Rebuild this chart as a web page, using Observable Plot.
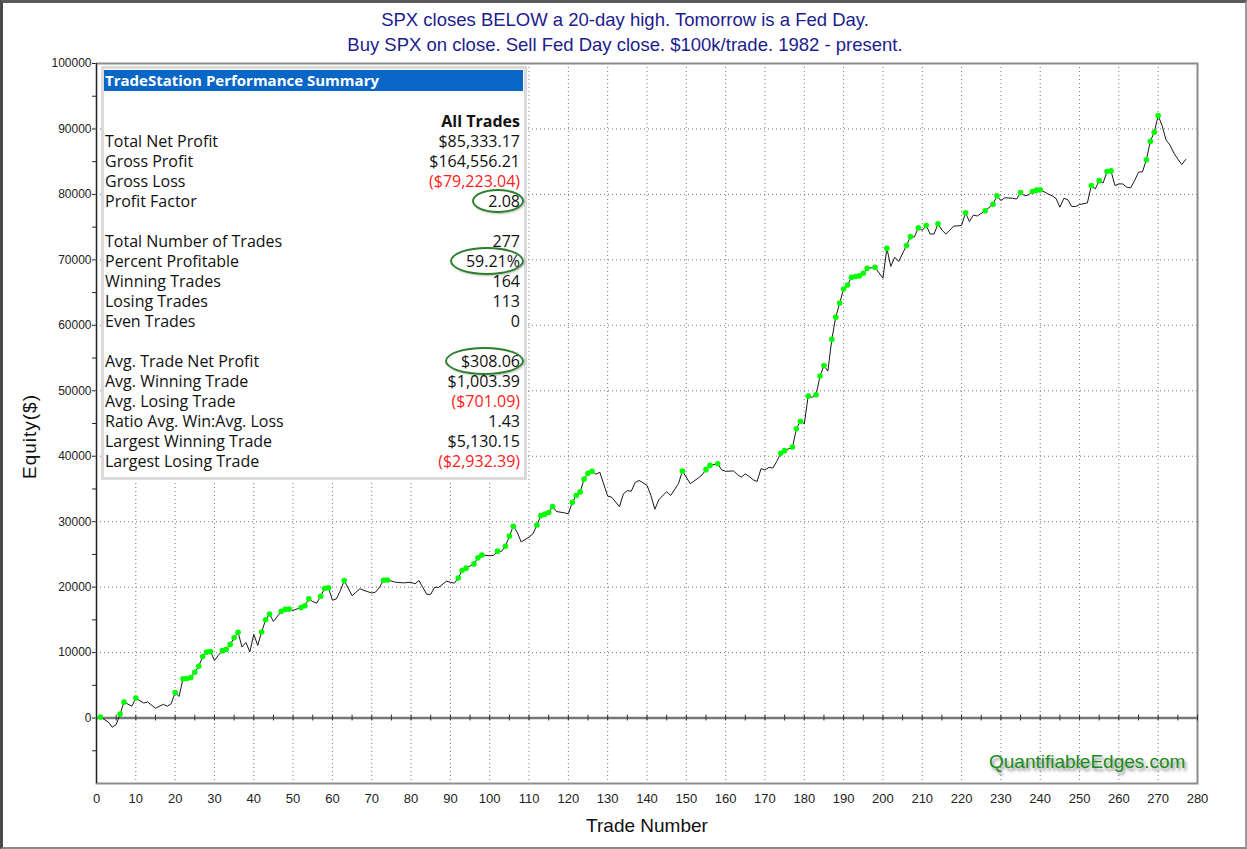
<!DOCTYPE html>
<html>
<head>
<meta charset="utf-8">
<script src="https://cdn.jsdelivr.net/npm/d3@7"></script>
<script src="https://cdn.jsdelivr.net/npm/@observablehq/plot@0.6"></script>
<style>
  body { margin: 0; background: #fff; }
  #wrap { position: relative; width: 1247px; height: 849px; overflow: hidden; background: #fff; font-family: "Liberation Sans", Arial, sans-serif; }
  #border { position: absolute; left: 0; top: 0; width: 1247px; height: 849px; box-sizing: border-box;
    border-left: 3px solid #4a4a4a; border-top: 3px solid #5a5a5a; border-right: 2px solid #9a9a9a; border-bottom: 2px solid #8a8a8a; pointer-events: none; }
  #title { position: absolute; left: 0; top: 6.5px; width: 1250px; text-align: center; color: #1c1c8e; font-size: 18.5px; line-height: 25px; }
  #chart { position: absolute; left: 0; top: 55px; }
  #summary { position: absolute; left: 101px; top: 66px; width: 426px; height: 414px; box-sizing: border-box; border: 3px solid #dadada; background: #fff;
    font-family: "Open Sans", "Noto Sans", sans-serif; font-size: 16px; color: #111; }
  #summary .hdr { position: absolute; left: 0; top: 1px; width: 418px; height: 21px; background: #0866c6; color: #fff; font-weight: bold; font-size: 15px; line-height: 21px; padding-left: 1px; }
  #summary .row { position: absolute; left: 0; width: 416px; height: 20px; line-height: 20px; }
  #summary .lab { position: absolute; left: 0; }
  #summary .val { position: absolute; right: 0; }
  #summary .ell { position: absolute; border: 2px solid #2d7f2d; border-radius: 50%; box-sizing: border-box; box-shadow: 1px 1px 2px rgba(0,0,0,0.25); }
  #wm { position: absolute; left: 989px; top: 751px; font-size: 19px; color: #1a8c1a; text-shadow: 2px 3px 3px rgba(0,0,0,0.45); font-family: "Liberation Sans", Arial, sans-serif; }
</style>
</head>
<body>
<div id="wrap">
  <div id="title"></div>
  <div id="chart"></div>
  <div id="summary"></div>
  <div id="wm"></div>
  <div id="border"></div>
</div>
<script>
// ---- Chart text ----
const titleLines = [
  "SPX closes BELOW a 20-day high. Tomorrow is a Fed Day.",
  "Buy SPX on close. Sell Fed Day close. $100k/trade. 1982 - present."
];
const xAxisLabel = "Trade Number";
const yAxisLabel = "Equity($)";
const watermark = "QuantifiableEdges.com";

// ---- Equity curve ----
const tradeNo = [1,3,4,5,6,7,9,10,12,13,15,17,18,19,20,21,22,23,24,25,26,27,28,29,30,31,32,33,34,35,36,37,38,39,40,41,42,43,44,45,47,48,49,50,52,53,54,55,56,57,58,59,60,61,62,63,65,67,68,70,71,72,73,74,76,78,80,81,82,84,85,86,87,89,90,91,92,93,94,96,97,98,100,101,102,103,104,105,106,107,108,110,111,112,113,114,115,116,117,119,120,121,122,123,124,125,126,127,128,130,131,133,134,135,136,137,138,140,141,142,143,145,146,148,149,151,153,154,155,156,158,159,160,162,163,164,165,166,167,168,169,170,171,172,173,174,175,177,178,179,180,181,182,183,184,185,186,187,188,189,190,191,192,193,194,195,196,198,200,201,202,203,204,206,207,208,209,210,211,212,213,214,215,216,218,220,221,222,223,224,226,228,229,230,231,233,234,235,236,237,238,239,240,241,242,243,244,245,246,247,248,249,250,252,253,254,255,256,257,258,259,260,261,262,263,264,265,266,267,268,269,270,271,272,273,274,275,276,277];
const equity = [150,-600,-1400,-1000,600,2450,1800,3050,2300,2450,1500,2100,1800,2200,3900,3300,6000,6050,6200,7000,7900,9400,10100,10150,8800,9600,10300,10500,11250,12250,13100,10850,11550,10100,12800,11100,13150,15000,15900,14750,16300,16600,16650,16450,16900,17150,18200,17800,17550,18600,19800,19900,18000,18200,19450,21000,18700,19750,19500,19100,19250,20000,21050,21100,20750,20650,20750,20500,21000,18900,18900,20000,19950,20900,20750,20600,21400,22550,22900,23550,24500,24900,24800,24850,25500,25450,26250,27800,29300,28400,26900,27650,28150,29500,30950,31150,31400,32300,31550,31350,31200,32950,34000,34550,36500,37400,37700,37250,37550,33900,33750,32300,34250,34750,34650,36000,36300,35550,34000,31900,33350,34600,34000,35800,37750,35800,36650,37150,37950,38600,38850,37900,37700,37750,37200,36800,37300,36900,36400,36150,38100,37900,38300,38200,39200,40450,40850,41400,44200,45350,44950,49200,49000,49400,52250,53850,53000,57850,61250,63400,65550,66150,67350,67450,67550,67950,68700,68850,67200,71750,69000,70400,69750,72200,73550,73500,74900,74500,75250,73950,73950,75500,74550,73950,75150,75250,77200,75850,76850,76700,77500,78500,79800,79050,79500,79400,79300,80300,79800,79900,80450,80650,80700,80400,80050,79800,79400,78050,79400,79200,78150,78150,78450,78700,81350,80850,82100,81750,83500,83600,81350,81600,81600,81100,81000,82100,83400,83450,85300,88100,89500,92050,90500,88300,87550,86300,85400,84550,85333];
// trades marked with a green dot (new equity highs)
const newHighTrades = [1,6,7,10,20,22,23,24,25,26,27,28,29,32,33,34,35,36,42,43,44,47,48,49,52,53,54,57,58,59,63,73,74,92,93,94,96,97,98,102,104,105,106,112,113,114,115,116,121,122,123,124,125,126,149,155,156,158,174,175,177,178,179,181,183,184,185,187,188,189,190,191,192,193,194,195,196,198,201,206,207,209,211,214,221,226,228,229,235,238,239,240,253,255,257,258,267,268,269,270];

// ---- Axis ticks ----
const xTicks = d3.range(0, 281, 10);
const yTicks = d3.range(0, 100001, 10000);
const yMinorTicks = d3.range(-5000, 100000, 10000);
const zeroLineTicks = d3.range(5, 281, 5);

// ---- Performance summary ----
const summaryTitle = "TradeStation Performance Summary";
const summaryColumn = "All Trades";
const summaryLabels = ["Total Net Profit","Gross Profit","Gross Loss","Profit Factor","","Total Number of Trades","Percent Profitable","Winning Trades","Losing Trades","Even Trades","","Avg. Trade Net Profit","Avg. Winning Trade","Avg. Losing Trade","Ratio Avg. Win:Avg. Loss","Largest Winning Trade","Largest Losing Trade"];
const summaryValues = ["$85,333.17","$164,556.21","($79,223.04)","2.08","","277","59.21%","164","113","0","","$308.06","$1,003.39","($701.09)","1.43","$5,130.15","($2,932.39)"];
const summaryRed = ["Gross Loss","Avg. Losing Trade","Largest Losing Trade"];
const summaryCircled = ["Profit Factor","Percent Profitable","Avg. Trade Net Profit"];

// ---- Build ----
document.getElementById("title").innerHTML = titleLines.map(t => `<div>${t}</div>`).join("");
document.getElementById("wm").textContent = watermark;

const highSet = new Set(newHighTrades);
const rows = tradeNo.map((t, i) => ({trade: t, equity: equity[i], high: highSet.has(t)}));

const chart = Plot.plot({
  width: 1247,
  height: 794,
  marginTop: 8,
  marginBottom: 66,
  marginLeft: 96,
  marginRight: 50,
  style: {fontFamily: "'Liberation Sans', Arial, sans-serif", fontSize: "12px", color: "#222", background: "transparent"},
  x: {domain: [0, 280], ticks: xTicks, tickSize: 0, tickPadding: 10, tickFormat: d => String(d), label: null},
  y: {domain: [-10000, 100000], ticks: yTicks, tickSize: 4, tickPadding: 1, tickFormat: d => String(d), label: null},
  marks: [
    Plot.ruleX(xTicks.filter(d => d > 0), {stroke: "#777", strokeDasharray: "1,3", strokeWidth: 1}),
    Plot.ruleY(yTicks.filter(d => d > 0), {stroke: "#777", strokeDasharray: "1,3", strokeWidth: 1}),
    Plot.frame({stroke: "#8c8c8c", strokeWidth: 2}),
    Plot.ruleY([0], {stroke: "#777", strokeWidth: 2.5}),
    Plot.ruleX(zeroLineTicks, {y1: -450, y2: 450, stroke: "#333"}),
    Plot.ruleY(yMinorTicks, {x1: -1, x2: 0, stroke: "#222"}),
    Plot.ruleX([0], {stroke: "#222", strokeWidth: 1}),
    Plot.line(rows, {x: "trade", y: "equity", stroke: "#1a1a1a", strokeWidth: 1}),
    Plot.dot(rows.filter(d => d.high), {x: "trade", y: "equity", r: 2.8, fill: "#00ff00", stroke: "none"}),
    Plot.text([xAxisLabel], {frameAnchor: "bottom", lineAnchor: "middle", dy: 42, fontSize: 19, fill: "#111"}),
    Plot.text([yAxisLabel], {frameAnchor: "left", textAnchor: "middle", lineAnchor: "middle", rotate: -90, dx: -67, dy: 13, fontSize: 19, fill: "#111"})
  ]
});
document.getElementById("chart").appendChild(chart);
chart.querySelectorAll('g[aria-label="x-axis tick label"] text, g[aria-label="x-axis"] text').forEach(t => t.setAttribute("font-size", "13"));
chart.querySelectorAll('g[aria-label="text"] text').forEach(t => { if (t.textContent === yAxisLabel) t.style.letterSpacing = "1px"; });

// summary table
const sum = document.getElementById("summary");
let html = `<div class="hdr">${summaryTitle}</div>`;
html += `<div class="row" style="top:${42}px"><span class="val" style="font-weight:bold">${summaryColumn}</span></div>`;
summaryLabels.forEach((lab, i) => {
  if (!lab) return;
  const top = 62 + 20 * i;
  const red = summaryRed.includes(lab) ? "color:#ff2020;" : "";
  html += `<div class="row" style="top:${top}px"><span class="lab" style="padding-left:1px">${lab}</span><span class="val" id="v${i}" style="${red}">${summaryValues[i]}</span></div>`;
});
sum.innerHTML = html;
const boxRect = sum.getBoundingClientRect();
summaryLabels.forEach((lab, i) => {
  if (!summaryCircled.includes(lab)) return;
  const r = document.getElementById("v" + i).getBoundingClientRect();
  const cy = 72 + 20 * i;
  const right = r.right - boxRect.left - 3 + 4;
  const w = r.width + 20;
  const h = i === 3 ? 24 : 28;
  const e = document.createElement("div");
  e.className = "ell";
  e.style.cssText = `left:${right - w}px;top:${cy - h / 2}px;width:${w}px;height:${h}px`;
  sum.appendChild(e);
});
</script>
</body>
</html>
